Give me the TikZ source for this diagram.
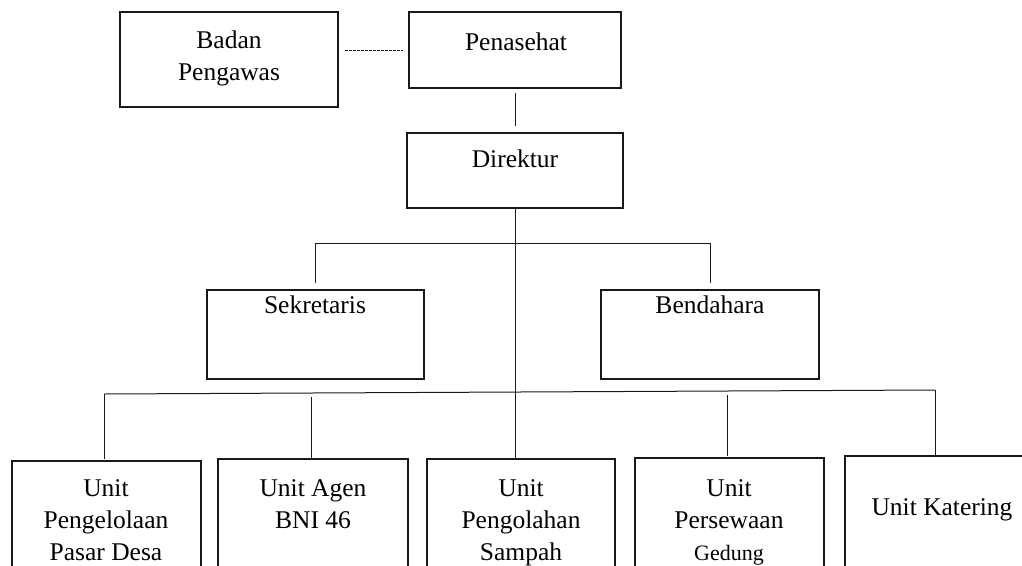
\documentclass[tikz,border=0pt]{standalone}
\usepackage{fontspec}
\setmainfont{Liberation Serif}
\begin{document}
\begin{tikzpicture}[x=1pt,y=-1pt,
  box/.style={draw=black!90, line width=1.2pt, inner sep=0pt, outer sep=0pt, anchor=north west},
  lbl/.style={font=\fontsize{25.5}{32}\selectfont, align=center, inner sep=0pt, anchor=north, text=black},
  link/.style={draw=black!90, line width=1pt},
  dashlink/.style={draw=black!90, line width=0.9pt, dash pattern=on 2.6pt off 1.4pt}]
\useasboundingbox (0,0) rectangle (1022,565);
\clip (0,0) rectangle (1022,565);
% boxes
\node[box, minimum width=218, minimum height=95] (badan) at (120,12) {};
\node[box, minimum width=212, minimum height=76] (pen) at (409,12) {};
\node[box, minimum width=216, minimum height=75] (dir) at (407,133) {};
\node[box, minimum width=217, minimum height=89] (sek) at (207,290) {};
\node[box, minimum width=218, minimum height=89] (bend) at (601,290) {};
\node[box, minimum width=189, minimum height=140] (u1) at (12,461) {};
\node[box, minimum width=190, minimum height=140] (u2) at (218,459) {};
\node[box, minimum width=188, minimum height=140] (u3) at (427,459) {};
\node[box, minimum width=189, minimum height=140] (u4) at (635,458) {};
\node[box, minimum width=190, minimum height=140] (u5) at (845,456) {};
% labels
\node[lbl] (tbadan) at (229,25.6) {\strut Badan\\Pengawas};
\node[lbl] (tpen) at (516,27.6) {\strut Penasehat};
\node[lbl] (tdir) at (515,144.6) {\strut Direktur};
\node[lbl] (tsek) at (315,290.6) {\strut Sekretaris};
\node[lbl] (tbend) at (710,290.6) {\strut Bendahara};
\node[lbl] (tu1) at (106,473.6) {\strut Unit\\Pengelolaan\\Pasar Desa};
\node[lbl] (tu2) at (313,473.6) {\strut Unit Agen\\BNI 46};
\node[lbl] (tu3) at (521,473.6) {\strut Unit\\Pengolahan\\Sampah};
\node[lbl] (tu4) at (729,473.6) {\strut Unit\\Persewaan\\{\fontsize{22}{32}\selectfont Gedung}};
\node[lbl] (tu5) at (942,492.6) {\strut Unit Katering};
% connectors
\draw[dashlink] ([xshift=7pt]badan.east |- pen.west) -- ([xshift=-6pt]pen.west);
\draw[link] ([yshift=-5pt]pen.south) -- ([yshift=7pt]dir.north);
\coordinate (main) at (515,208);
\draw[link] (main) -- (main |- u3.north);
\coordinate (j1) at (515,243);
\draw[link] ([yshift=7pt]sek.north) -- (sek.north |- j1) -- (bend.north |- j1) -- ([yshift=7pt]bend.north);
\coordinate (bl) at (104,394);
\coordinate (br) at (935,390);
\draw[link] (bl) -- (br);
\draw[link] (bl) -- ([yshift=2pt]bl |- u1.north);
\coordinate (d2) at (311,397);
\draw[link] (d2) -- ([yshift=1pt]d2 |- u2.north);
\coordinate (d4) at (727,395);
\draw[link] (d4) -- ([yshift=2pt]d4 |- u4.north);
\draw[link] (br) -- ([yshift=1pt]br |- u5.north);
\end{tikzpicture}
\end{document}
